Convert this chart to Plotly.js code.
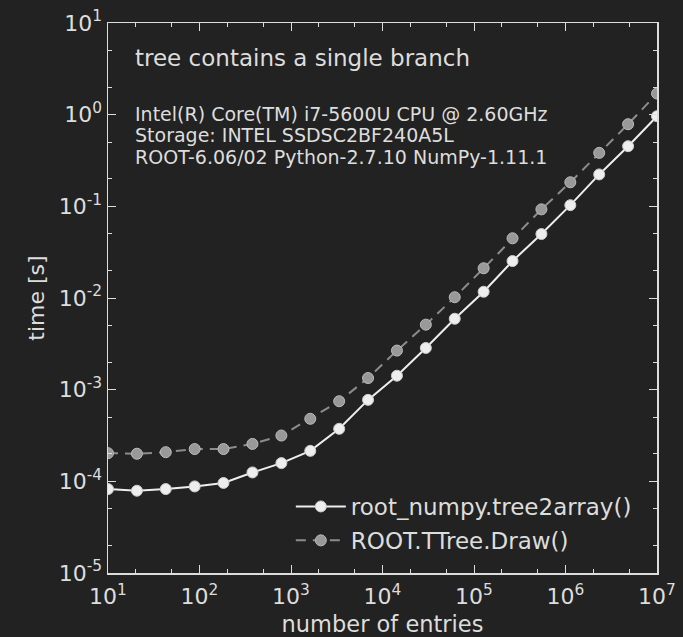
<!DOCTYPE html>
<html>
<head>
<meta charset="utf-8">
<script src="https://cdn.plot.ly/plotly-3.0.1.min.js"></script>
<style>
html,body{margin:0;padding:0;background:#222222;}
#chart{width:683px;height:637px;}
</style>
</head>
<body>
<div id="chart"></div>
<script>
// number of entries in the tree
const entries = [10, 20.7, 42.8, 88.6, 183, 379, 785, 1624, 3360, 6952, 14384, 29764, 61585, 127427, 263665, 545559, 1128838, 2335721, 4832930, 10000000];
// time [s] for root_numpy.tree2array()
const tree2arrayTime = [8.24e-5, 7.9e-5, 8.24e-5, 8.8e-5, 9.6e-5, 1.25e-4, 1.58e-4, 2.15e-4, 3.74e-4, 7.74e-4, 1.42e-3, 2.85e-3, 5.94e-3, 0.0117, 0.0253, 0.0499, 0.103, 0.223, 0.453, 0.962];
// time [s] for ROOT.TTree.Draw()
const ttreeDrawTime = [2.03e-4, 2.0e-4, 2.08e-4, 2.25e-4, 2.25e-4, 2.56e-4, 3.16e-4, 4.81e-4, 7.48e-4, 1.34e-3, 2.67e-3, 5.12e-3, 0.0102, 0.0211, 0.0448, 0.0927, 0.183, 0.383, 0.787, 1.70];

const seriesNames = ['root_numpy.tree2array()', 'ROOT.TTree.Draw()'];
const xTickVals = [1e1, 1e2, 1e3, 1e4, 1e5, 1e6, 1e7];
const xTickText = ['10<sup>1</sup>', '10<sup>2</sup>', '10<sup>3</sup>', '10<sup>4</sup>', '10<sup>5</sup>', '10<sup>6</sup>', '10<sup>7</sup>'];
const yTickVals = [1e-5, 1e-4, 1e-3, 1e-2, 1e-1, 1e0, 1e1];
const yTickText = ['10<sup>-5</sup>', '10<sup>-4</sup>', '10<sup>-3</sup>', '10<sup>-2</sup>', '10<sup>-1</sup>', '10<sup>0</sup>', '10<sup>1</sup>'];
const titleText = 'tree contains a single branch';
const infoLines = ['Intel(R) Core(TM) i7-5600U CPU @ 2.60GHz', 'Storage: INTEL SSDSC2BF240A5L', 'ROOT-6.06/02 Python-2.7.10 NumPy-1.11.1'];

const fg = '#dddddd';
const font = 'DejaVu Sans, sans-serif';

const traces = [
  {
    x: entries, y: tree2arrayTime, name: seriesNames[0], legendgroup: 'a',
    type: 'scatter', mode: 'lines+markers',
    line: {color: '#eeeeee', width: 2},
    marker: {color: '#eeeeee', size: 11, line: {color: '#cccccc', width: 1}}
  },
  {
    x: entries, y: ttreeDrawTime, name: seriesNames[1], legendgroup: 'b',
    type: 'scatter', mode: 'lines+markers',
    line: {color: '#8c8c8c', width: 2, dash: '10px,7px'},
    marker: {color: '#999999', size: 11, line: {color: '#bbbbbb', width: 1}}
  }
];

const axisCommon = {
  type: 'log',
  showgrid: false, zeroline: false,
  showline: true, linecolor: fg, linewidth: 1.5, mirror: 'allticks',
  ticks: 'inside', ticklen: 8, tickwidth: 1, tickcolor: fg,
  tickfont: {family: font, size: 22, color: fg},
  minor: {ticks: 'inside', ticklen: 4, tickwidth: 1, tickcolor: fg, showgrid: false}
};

// info lines placed one under another (paper y of each line centre)
const infoY = [0.835, 0.796, 0.757];
const annotations = [
  {xref: 'paper', yref: 'paper', x: 0.046, y: 0.936, xanchor: 'left', yanchor: 'middle',
   text: titleText, showarrow: false, font: {family: font, size: 23, color: fg}}
];
infoLines.forEach(function (t, i) {
  annotations.push({xref: 'paper', yref: 'paper', x: 0.046, y: infoY[i], xanchor: 'left', yanchor: 'middle',
    text: t, showarrow: false, font: {family: font, size: 19, color: fg}});
});

const layout = {
  width: 683, height: 637,
  paper_bgcolor: '#222222', plot_bgcolor: '#222222',
  margin: {l: 108, r: 26, t: 23, b: 64},
  font: {family: font, color: fg},
  showlegend: true,
  xaxis: Object.assign({}, axisCommon, {
    range: [1, 7], tickmode: 'array', tickvals: xTickVals, ticktext: xTickText,
    ticklabelstandoff: 3,
    title: {text: 'number of entries', font: {family: font, size: 22.5, color: fg}, standoff: 12}
  }),
  yaxis: Object.assign({}, axisCommon, {
    range: [-5, 1], tickmode: 'array', tickvals: yTickVals, ticktext: yTickText,
    ticklabelstandoff: 0,
    title: {text: 'time [s]', font: {family: font, size: 22, color: fg}, standoff: 8}
  }),
  legend: {
    x: 0.333, y: 0.16, xanchor: 'left', yanchor: 'top',
    bgcolor: 'rgba(0,0,0,0)', borderwidth: 0, itemwidth: 50, tracegroupgap: 1,
    font: {family: font, size: 23, color: fg}
  },
  annotations: annotations
};

Plotly.newPlot('chart', traces, layout, {displayModeBar: false, staticPlot: true});
</script>
</body>
</html>
